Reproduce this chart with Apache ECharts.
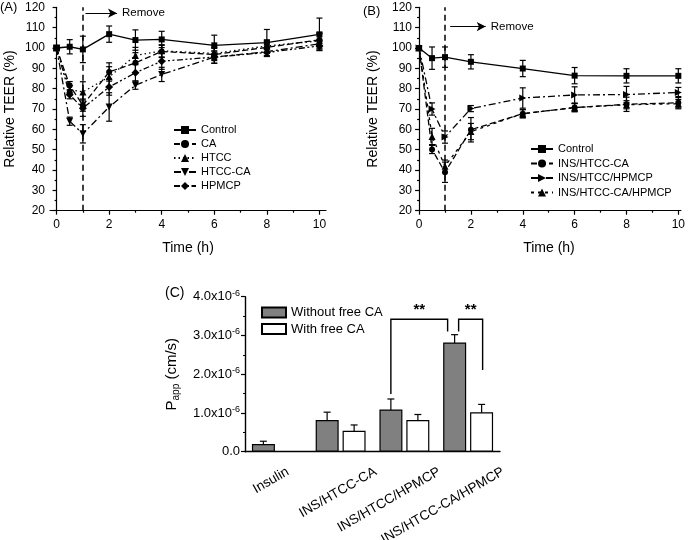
<!DOCTYPE html>
<html><head><meta charset="utf-8">
<script src="https://cdn.jsdelivr.net/npm/echarts@6.0.0/dist/echarts.min.js"></script>
<style>html,body{margin:0;padding:0;background:#fff}#c{width:688px;height:540px}</style>
</head><body><div id="c"></div>
<script>
// ---------- DATA ----------
const timeH = [0, 0.5, 1, 2, 3, 4, 6, 8, 10];
const timeB = [0, 0.5, 1, 2, 4, 6, 8, 10];
const timeTicks = [0, 2, 4, 6, 8, 10];
const timeMinorTicks = [1, 3, 5, 7, 9];

// Panel A: relative TEER (%)
const namesA = ['Control', 'CA', 'HTCC', 'HTCC-CA', 'HPMCP'];
const controlA = [100, 100.6, 99.3, 106.8, 103.9, 104.2, 101.3, 102.6, 106.7];
const controlAErr = [1, 3.5, 6.5, 4, 5, 4, 5, 6.5, 8];
const caA = [100, 81.5, 71.9, 88.2, 92.7, 98.3, 96.8, 100.3, 104];
const caAErr = [1, 2, 3, 4.5, 5, 3, 3, 3, 3];
const htccA = [100, 79.5, 78.4, 85.8, 96.3, 98.6, 97.3, 101, 103.5];
const htccAErr = [1, 2, 5, 5, 4, 3, 3, 3, 4];
const htccCaA = [100, 64, 57.8, 71, 81.7, 87, 95.5, 98.2, 102];
const htccCaAErr = [1, 2, 4.5, 7, 2, 3.5, 3, 2, 2];
const hpmcpA = [100, 77, 70.4, 80.8, 87.8, 93.5, 95.5, 97.8, 101];
const hpmcpAErr = [1, 2, 4, 4, 4, 4, 3, 2, 2];

// Panel B: relative TEER (%)
const namesB = ['Control', 'INS/HTCC-CA', 'INS/HTCC/HPMCP', 'INS/HTCC-CA/HPMCP'];
const controlB = [100, 95, 95.5, 93.2, 89.9, 86.4, 86.3, 86.3];
const controlBErr = [1, 5.5, 5, 3.5, 4, 4, 3.5, 3.5];
const insHtccCaB = [100, 50.1, 38.9, 59.8, 67.7, 70.7, 72.3, 73.1];
const insHtccCaBErr = [1, 2, 5, 6, 2, 2, 3.5, 3];
const insHtccHpmcpB = [100, 70, 56.2, 70.2, 75.4, 76.9, 77.1, 78.1];
const insHtccHpmcpBErr = [1, 3, 3, 1.5, 5, 4, 4, 2.5];
const insHtccCaHpmcpB = [100, 56.5, 41.9, 58.9, 67.7, 70.7, 72.1, 72.6];
const insHtccCaHpmcpBErr = [1, 4, 3, 4, 2, 2, 2, 2];

// Remove annotation (time of removal, arrow start/end time, arrow level)
const removeTime = 1;
const arrowA = [1.1, 2.3, 117.1];
const arrowB = [1.2, 2.57, 110.5];

// Panel C: Papp (x10^-6 cm/s)
const catsC = ['Insulin', 'INS/HTCC-CA', 'INS/HTCC/HPMCP', 'INS/HTCC-CA/HPMCP'];
const withoutCA = [0.2, 0.82, 1.09, 2.82];
const withoutCAErr = [0.07, 0.2, 0.27, 0.2];
const withCA = [null, 0.54, 0.82, 1.02];
const withCAErr = [null, 0.15, 0.14, 0.2];
const papTicksMax = 4;
// significance brackets: [leftCat, leftLegEnd, rightCat, rightLegEnd, top]
const brackets = [[2, 1.49, 3, 3.10, 3.42], [3, 3.10, 3, 2.11, 3.42]];
const bracketText = ['**', '**'];

// ---------- STYLE HELPERS ----------
const FONT = 'Liberation Sans';
const BLACK = '#000';

function errRender(offset, capW) {
  return function (params, api) {
    const x = api.value(0), y = api.value(1), e = api.value(2);
    if (y == null || isNaN(y)) return null;
    const hi = api.coord([x, y + e]), lo = api.coord([x, y - e]);
    const st = {stroke: BLACK, lineWidth: 1.2};
    const cx = hi[0] + offset;
    return {type: 'group', children: [
      {type: 'line', shape: {x1: cx, y1: hi[1], x2: cx, y2: lo[1]}, style: st},
      {type: 'line', shape: {x1: cx - capW, y1: hi[1], x2: cx + capW, y2: hi[1]}, style: st},
      {type: 'line', shape: {x1: cx - capW, y1: lo[1], x2: cx + capW, y2: lo[1]}, style: st}
    ]};
  };
}
function errSeries(xi, xs, vals, errs, offset, capW) {
  return {type: 'custom', xAxisIndex: xi, yAxisIndex: xi, silent: true, clip: false, z: 1,
    encode: {x: 0, y: 1},
    data: xs.map((t, i) => [t, vals[i], errs[i]]),
    renderItem: errRender(offset, capW)};
}
function lineSeries(xi, name, xs, vals, symbol, size, dash, rot) {
  return {type: 'line', name: name, xAxisIndex: xi, yAxisIndex: xi, z: 3,
    data: xs.map((t, i) => [t, vals[i]]),
    symbol: symbol, symbolSize: size, symbolRotate: rot || 0, showSymbol: true,
    lineStyle: {color: BLACK, width: 1.3, type: dash},
    itemStyle: {color: BLACK}};
}

function timeXAxes(gi, min, max) {
  return [{
    type: 'value', gridIndex: gi, min: min, max: max, position: 'bottom',
    name: 'Time (h)', nameLocation: 'middle', nameGap: 30,
    nameTextStyle: {fontFamily: FONT, fontSize: 14, color: BLACK},
    axisLine: {show: true, lineStyle: {color: BLACK, width: 1.2}},
    axisTick: {show: true, customValues: timeTicks, length: 4, lineStyle: {color: BLACK, width: 1.2}},
    axisLabel: {customValues: timeTicks, fontFamily: FONT, fontSize: 12, color: BLACK, margin: 8},
    splitLine: {show: false}
  }, {
    type: 'value', gridIndex: gi, min: min, max: max, position: 'bottom', offset: 0,
    axisLine: {show: false},
    axisTick: {show: true, customValues: timeMinorTicks, length: 2, lineStyle: {color: BLACK, width: 1.2}},
    axisLabel: {show: false}, splitLine: {show: false}
  }];
}
function teerYAxis(gi, gap) {
  return {
    type: 'value', gridIndex: gi, min: 20, max: 120, interval: 10,
    name: 'Relative TEER (%)', nameLocation: 'middle', nameGap: gap, nameRotate: 90,
    nameTextStyle: {fontFamily: FONT, fontSize: 14, color: BLACK},
    axisLine: {show: true, lineStyle: {color: BLACK, width: 1.2}},
    axisTick: {show: true, length: 4, lineStyle: {color: BLACK, width: 1.2}},
    minorTick: {show: true, splitNumber: 2, length: 2, lineStyle: {color: BLACK, width: 1.2}},
    axisLabel: {fontFamily: FONT, fontSize: 12, color: BLACK, margin: 5},
    splitLine: {show: false}
  };
}

const markLabel = {show: true, position: 'end', formatter: 'Remove', fontFamily: FONT, fontSize: 11.5, color: BLACK, distance: 5};
function vLine() {
  return {silent: true, symbol: ['none', 'none'], animation: false,
    label: {show: false},
    lineStyle: {color: BLACK, width: 1.5, type: [6, 4]},
    data: [{xAxis: removeTime}]};
}
function arrowLine(a) {
  return {silent: true, symbol: ['none', 'arrow'], symbolSize: [7, 9], animation: false,
    label: markLabel,
    lineStyle: {color: BLACK, width: 1.2, type: 'solid'},
    data: [[{coord: [a[0], a[2]]}, {coord: [a[1], a[2]]}]]};
}

// ---------- SERIES ----------
const sA = [
  Object.assign(lineSeries(0, namesA[0], timeH, controlA, 'rect', 6, 'solid'), {markLine: vLine()}),
  Object.assign(lineSeries(0, namesA[1], timeH, caA, 'circle', 6, [6, 3]), {markLine: arrowLine(arrowA)}),
  lineSeries(0, namesA[2], timeH, htccA, 'triangle', 7, [1.5, 3]),
  lineSeries(0, namesA[3], timeH, htccCaA, 'triangle', 7, [7, 3, 2, 3], 180),
  lineSeries(0, namesA[4], timeH, hpmcpA, 'diamond', 8, [6, 2.5, 2, 2.5, 2, 2.5]),
  errSeries(0, timeH, controlA, controlAErr, 0, 3),
  errSeries(0, timeH, caA, caAErr, 0, 3),
  errSeries(0, timeH, htccA, htccAErr, 0, 3),
  errSeries(0, timeH, htccCaA, htccCaAErr, 0, 3),
  errSeries(0, timeH, hpmcpA, hpmcpAErr, 0, 3)
];
function remap(s, xi, yi) { s.xAxisIndex = xi; s.yAxisIndex = yi; return s; }
const sB = [
  Object.assign(lineSeries(0, namesB[0], timeB, controlB, 'rect', 6, 'solid'), {markLine: vLine()}),
  Object.assign(lineSeries(0, namesB[1], timeB, insHtccCaB, 'circle', 6, [6, 3]), {markLine: arrowLine(arrowB)}),
  lineSeries(0, namesB[2], timeB, insHtccHpmcpB, 'triangle', 7, [7, 3, 2, 3], -90),
  lineSeries(0, namesB[3], timeB, insHtccCaHpmcpB, 'triangle', 7, [3, 4]),
  errSeries(0, timeB, controlB, controlBErr, 0, 3),
  errSeries(0, timeB, insHtccCaB, insHtccCaBErr, 0, 3),
  errSeries(0, timeB, insHtccHpmcpB, insHtccHpmcpBErr, 0, 3),
  errSeries(0, timeB, insHtccCaHpmcpB, insHtccCaHpmcpBErr, 0, 3)
].map(s => remap(s, 2, 1));
sB[0].name = 'Control ';

const BAR_OFF = 13.5;
const sC = [
  {type: 'bar', name: 'Without free CA', xAxisIndex: 4, yAxisIndex: 2, data: withoutCA,
    barWidth: 23, barGap: '17%', itemStyle: {color: '#808080', borderColor: BLACK, borderWidth: 1.2}},
  {type: 'bar', name: 'With free CA', xAxisIndex: 4, yAxisIndex: 2, data: withCA.map(v => v == null ? '-' : v),
    barWidth: 23, barGap: '17%', itemStyle: {color: '#fff', borderColor: BLACK, borderWidth: 1.2}},
  remap(errSeries(0, [0, 1, 2, 3], withoutCA, withoutCAErr, -BAR_OFF, 3.5), 4, 2),
  remap(errSeries(0, [0, 1, 2, 3], withCA, withCAErr, BAR_OFF, 3.5), 4, 2),
  {type: 'custom', xAxisIndex: 4, yAxisIndex: 2, silent: true, clip: false, z: 5,
    encode: {x: 0, y: 1},
    data: brackets,
    renderItem: function (params, api) {
      const i = params.dataIndex;
      const ends = [[-BAR_OFF, -BAR_OFF - 7], [-BAR_OFF + 4, BAR_OFF + 1]][i];
      const l = api.coord([api.value(0), api.value(1)]);
      const r = api.coord([api.value(2), api.value(3)]);
      const t = api.coord([api.value(0), api.value(4)]);
      const x1 = l[0] + ends[0], x2 = r[0] + ends[1];
      return {type: 'group', children: [
        {type: 'polyline', shape: {points: [[x1, l[1]], [x1, t[1]], [x2, t[1]], [x2, r[1]]]},
          style: {stroke: BLACK, lineWidth: 1.4, fill: null}},
        {type: 'text', x: (x1 + x2) / 2, y: t[1] - 2,
          style: {text: bracketText[i], fill: BLACK, font: 'bold 15px ' + FONT, align: 'center', verticalAlign: 'bottom'}}
      ]};
    }},
  {type: 'custom', xAxisIndex: 4, yAxisIndex: 2, silent: true, clip: false, z: 5,
    encode: {x: 0, y: 1},
    data: catsC.map((c, i) => [i, 0]),
    renderItem: function (params, api) {
      const i = params.dataIndex;
      const p = api.coord([api.value(0), 0]);
      const dx = i === 0 ? 11 : 35;
      return {type: 'text', x: p[0] + dx, y: p[1] + 19, rotation: Math.PI / 6,
        style: {text: catsC[i], fill: BLACK, font: '13.5px ' + FONT, align: 'right', verticalAlign: 'middle'}};
    }}
];

const option = {
  animation: false,
  backgroundColor: '#fff',
  textStyle: {fontFamily: FONT},
  grid: [
    {left: 50, top: 7.3, width: 276, height: 203.4},
    {left: 417, top: 7.3, width: 268, height: 203.4},
    {left: 245, top: 296.7, width: 255, height: 155}
  ],
  xAxis: [
    ...timeXAxes(0, -0.25, 10.25),
    ...timeXAxes(1, -0.08, 10.1),
    {type: 'category', gridIndex: 2, data: catsC,
      axisLine: {show: true, lineStyle: {color: BLACK, width: 1.4}},
      axisTick: {show: false}, axisLabel: {show: false}, splitLine: {show: false}}
  ],
  yAxis: [
    teerYAxis(0, 33),
    teerYAxis(1, 37),
    {type: 'value', gridIndex: 2, min: 0, max: papTicksMax, interval: 1,
      name: '{p|P}{sub|app}{p| (cm/s)}', nameLocation: 'middle', nameGap: 64, nameRotate: 90,
      nameTextStyle: {rich: {
        p: {fontFamily: FONT, fontSize: 15, color: BLACK},
        sub: {fontFamily: FONT, fontSize: 10, color: BLACK, verticalAlign: 'bottom', padding: [8, 0, 0, 0]}}},
      axisLine: {show: true, lineStyle: {color: BLACK, width: 1.4}},
      axisTick: {show: true, length: 4, lineStyle: {color: BLACK, width: 1.2}},
      minorTick: {show: true, splitNumber: 2, length: 2, lineStyle: {color: BLACK, width: 1.2}},
      axisLabel: {fontFamily: FONT, fontSize: 13, color: BLACK, margin: 5,
        formatter: v => v === 0 ? '0.0' : '{m|' + v.toFixed(1) + 'x10}{s|-6}',
        rich: {
          m: {fontFamily: FONT, fontSize: 13, color: BLACK},
          s: {fontFamily: FONT, fontSize: 9, color: BLACK, verticalAlign: 'top', padding: [0, 0, 7, 0]}}},
      splitLine: {show: false}}
  ],
  legend: [
    {data: namesA, orient: 'vertical', left: 168, top: 118, itemWidth: 22, itemHeight: 10, itemGap: 0,
      textStyle: {fontFamily: FONT, fontSize: 11, color: BLACK, lineHeight: 14}, selectedMode: false},
    {data: ['Control '].concat(namesB.slice(1)), orient: 'vertical', left: 525, top: 137, itemWidth: 22, itemHeight: 10, itemGap: 0.5,
      formatter: n => n.trim(),
      textStyle: {fontFamily: FONT, fontSize: 11, color: BLACK, lineHeight: 14}, selectedMode: false},
    {data: ['Without free CA', 'With free CA'], orient: 'vertical', left: 256, top: 300, itemWidth: 24, itemHeight: 10, itemGap: 1.5,
      icon: 'rect', textStyle: {fontFamily: FONT, fontSize: 13, color: BLACK, lineHeight: 15}, selectedMode: false}
  ],
  graphic: [
    {type: 'text', left: 0, top: 1, style: {text: '(A)', font: '13px ' + FONT, fill: BLACK}},
    {type: 'text', left: 363, top: 5, style: {text: '(B)', font: '13px ' + FONT, fill: BLACK}},
    {type: 'text', left: 165, top: 286, style: {text: '(C)', font: '14px ' + FONT, fill: BLACK}}
  ],
  series: [...sA, ...sB, ...sC]
};
const chart = echarts.init(document.getElementById('c'), null, {renderer: 'canvas'});
chart.setOption(option);
</script>
</body></html>
